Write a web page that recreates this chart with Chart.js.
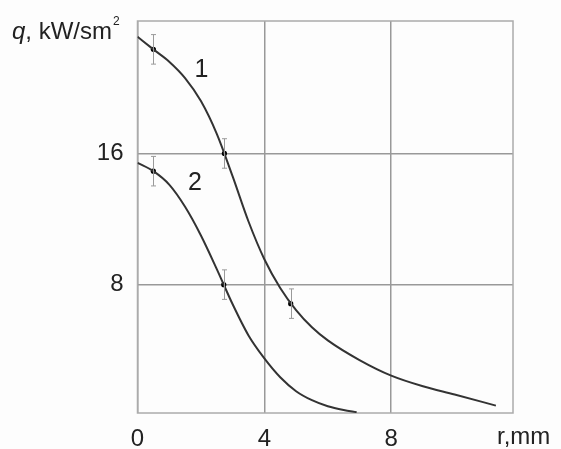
<!DOCTYPE html>
<html>
<head>
<meta charset="utf-8">
<script src="https://cdn.jsdelivr.net/npm/chart.js@4/dist/chart.umd.min.js"></script>
<style>
  html, body { margin: 0; padding: 0; background: #fdfdfd; }
  canvas { display: block; }
</style>
</head>
<body>
<canvas id="chart" width="561" height="449"></canvas>
<script>
// curve 1: heat flux profile, r in mm, q in kW/sm^2
const curve1R = [0, 0.5, 1.0, 1.5, 2.0, 2.5, 3.0, 3.5, 4.0, 4.5, 5.0, 5.5, 6.0, 7.0, 8.0, 9.0, 10.0, 11.3];
const curve1Q = [23.12, 22.35, 21.6, 20.6, 19.2, 17.2, 14.6, 11.85, 9.55, 7.8, 6.45, 5.4, 4.6, 3.4, 2.45, 1.8, 1.3, 0.62];

// curve 2
const curve2R = [0, 0.5, 1.0, 1.5, 2.0, 2.5, 3.0, 3.5, 4.0, 4.5, 5.0, 5.5, 6.0, 6.5, 6.91];
const curve2Q = [15.43, 14.92, 14.1, 12.75, 11.0, 8.95, 6.8, 4.9, 3.5, 2.35, 1.5, 0.95, 0.58, 0.35, 0.22];

// measured points with error bars
const meas1R = [0.5, 2.74, 4.83];
const meas1Q = [22.35, 16.0, 6.84];
const meas2R = [0.5, 2.72];
const meas2Q = [14.92, 8.0];
const measErr = 0.9;

const xTicks = [0, 4, 8];
const yTicks = [8, 16];
const curveLabels = [
  { text: '1', r: 2.02, q: 21.1 },
  { text: '2', r: 1.81, q: 14.2 }
];

const FONT = '"Liberation Sans", Arial, sans-serif';

function toXY(xs, ys) {
  return xs.map((x, i) => ({ x: x, y: ys[i] }));
}

const decorPlugin = {
  id: 'decor',
  beforeDatasetsDraw(chart) {
    const ctx = chart.ctx;
    const a = chart.chartArea;
    ctx.save();
    ctx.strokeStyle = '#ababab';
    ctx.lineWidth = 1.5;
    ctx.strokeRect(a.left, a.top, a.right - a.left, a.bottom - a.top);
    ctx.restore();
  },
  afterDatasetsDraw(chart) {
    const ctx = chart.ctx;
    const xs = chart.scales.x;
    const ys = chart.scales.y;
    ctx.save();
    // error bars
    ctx.strokeStyle = '#9a9a9a';
    ctx.lineWidth = 1;
    const bars = toXY(meas1R, meas1Q).concat(toXY(meas2R, meas2Q));
    bars.forEach(p => {
      const px = Math.round(xs.getPixelForValue(p.x)) + 0.5;
      const top = ys.getPixelForValue(p.y + measErr);
      const bot = ys.getPixelForValue(p.y - measErr);
      ctx.beginPath();
      ctx.moveTo(px, top); ctx.lineTo(px, bot);
      ctx.moveTo(px - 2.5, top); ctx.lineTo(px + 2.5, top);
      ctx.moveTo(px - 2.5, bot); ctx.lineTo(px + 2.5, bot);
      ctx.stroke();
    });
    // curve numbers
    ctx.fillStyle = '#222';
    ctx.font = '25px ' + FONT;
    ctx.textAlign = 'center';
    ctx.textBaseline = 'middle';
    curveLabels.forEach(l => {
      ctx.fillText(l.text, xs.getPixelForValue(l.r), ys.getPixelForValue(l.q));
    });
    ctx.restore();
  },
  afterDraw(chart) {
    const ctx = chart.ctx;
    ctx.save();
    ctx.fillStyle = '#222';
    ctx.textBaseline = 'alphabetic';
    ctx.textAlign = 'left';
    // y axis title
    ctx.font = 'italic 24px ' + FONT;
    ctx.fillText('q', 12, 39);
    let x = 12 + ctx.measureText('q').width;
    ctx.font = '24px ' + FONT;
    ctx.fillText(', kW/sm', x, 39);
    x += ctx.measureText(', kW/sm').width;
    ctx.font = '12px ' + FONT;
    ctx.fillText('2', x + 1, 25);
    // x axis title
    ctx.font = '24px ' + FONT;
    ctx.fillText('r,mm', 497, 444);
    ctx.restore();
  }
};

new Chart(document.getElementById('chart'), {
  type: 'scatter',
  data: {
    datasets: [
      {
        data: toXY(curve1R, curve1Q),
        showLine: true,
        cubicInterpolationMode: 'monotone',
        borderColor: '#333',
        borderWidth: 2,
        pointRadius: 0
      },
      {
        data: toXY(curve2R, curve2Q),
        showLine: true,
        cubicInterpolationMode: 'monotone',
        borderColor: '#333',
        borderWidth: 2,
        pointRadius: 0
      },
      {
        data: toXY(meas1R, meas1Q).concat(toXY(meas2R, meas2Q)),
        showLine: false,
        pointRadius: 2.6,
        pointBackgroundColor: '#000',
        pointBorderWidth: 0
      }
    ]
  },
  options: {
    responsive: false,
    animation: false,
    events: [],
    layout: { padding: { top: 21, right: 48, left: 0, bottom: 0 } },
    plugins: { legend: { display: false }, tooltip: { enabled: false } },
    scales: {
      x: {
        type: 'linear',
        min: 0,
        max: 11.84,
        afterBuildTicks(scale) { scale.ticks = xTicks.map(v => ({ value: v })); },
        afterFit(scale) {
          scale.height = 36;
          scale.paddingLeft = 0;
          scale.paddingRight = 0;
        },
        border: { display: false },
        grid: { color: '#999', lineWidth: 1.5, drawTicks: false },
        ticks: {
          color: '#222',
          padding: 12,
          maxRotation: 0,
          font: { family: FONT, size: 24 }
        }
      },
      y: {
        type: 'linear',
        min: 0.17,
        max: 24.08,
        afterBuildTicks(scale) { scale.ticks = yTicks.map(v => ({ value: v })); },
        afterFit(scale) {
          scale.width = 137.5;
          scale.paddingTop = 0;
          scale.paddingBottom = 0;
        },
        border: { display: false },
        grid: { color: '#999', lineWidth: 1.5, drawTicks: false },
        ticks: {
          color: '#222',
          padding: 14,
          font: { family: FONT, size: 24 }
        }
      }
    }
  },
  plugins: [decorPlugin]
});
</script>
</body>
</html>
